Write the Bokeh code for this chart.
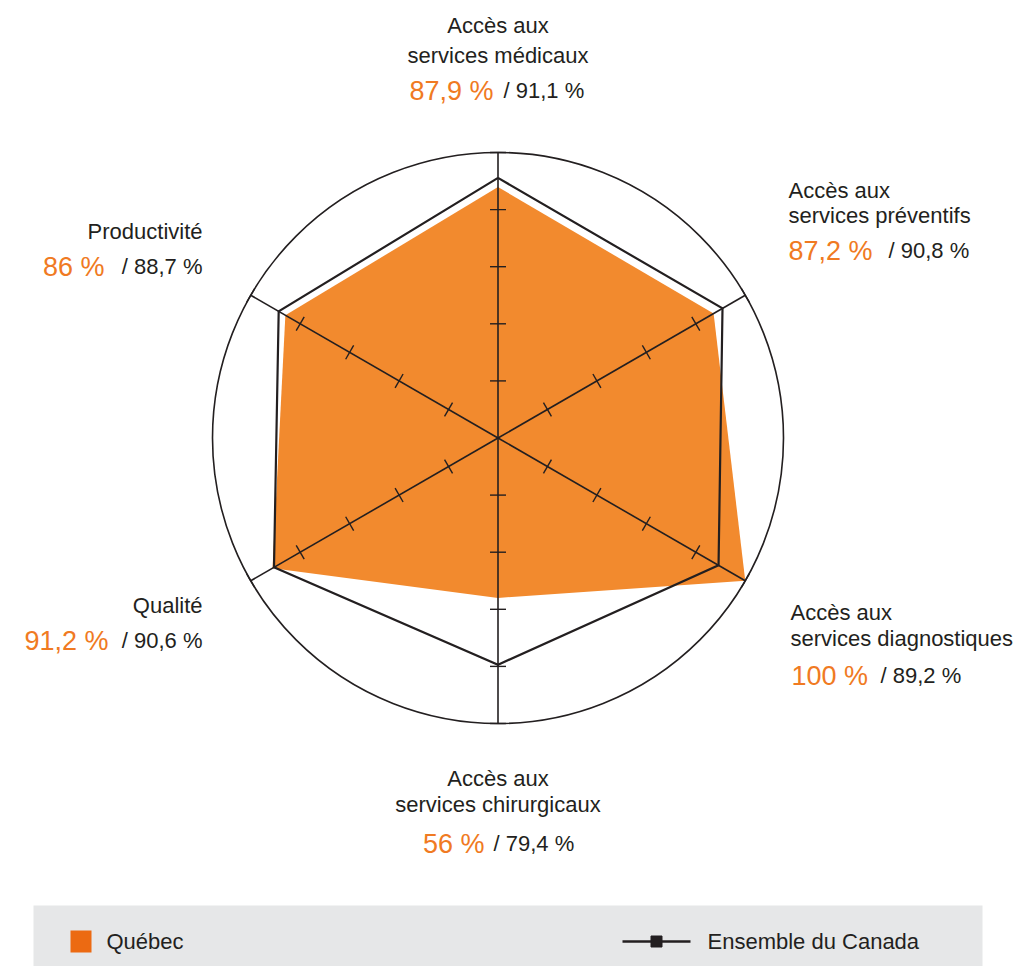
import numpy as np
from bokeh.plotting import figure
from bokeh.models import Range1d
from bokeh.core.properties import value
from bokeh.embed import file_html
from bokeh.resources import INLINE

# ---------------- data ----------------
cat_line1 = ["Accès aux", "Accès aux", "Accès aux", "Accès aux", "", ""]
cat_line2 = ["services médicaux", "services préventifs", "services diagnostiques",
             "services chirurgicaux", "Qualité", "Productivité"]
quebec = [87.9, 87.2, 100.0, 56.0, 91.2, 86.0]
canada = [91.1, 90.8, 89.2, 79.4, 90.6, 88.7]
axis_angles = [90, 30, -30, -90, -150, 150]   # degrees, one per category
ring_ticks = [20, 40, 60, 80, 100]
series_names = ["Québec", "Ensemble du Canada"]

# ---------------- styling / geometry ----------------
ORANGE = "#F28A2E"
ORANGE_TXT = "#F07A22"
ORANGE_LEG = "#EC6A12"
DARK = "#231F20"
FONT = value("Liberation Sans")

W, H = 1028, 966
S = 2.855            # px per percentage unit
CX, CY = 497.5, 437.5  # centre in page pixels
OFF = 0
TY = -8              # text baseline correction


def px(x):
    return (x - CX) / S


def py(y):
    return (CY - y) / S


def ty(y):
    return py(y + TY)


p = figure(width=W, height=H, output_backend="svg", toolbar_location=None,
           x_range=Range1d(px(OFF), px(OFF + W)), y_range=Range1d(py(OFF + H), py(OFF)),
           min_border=0, background_fill_color="white", border_fill_color="white")
p.axis.visible = False
p.grid.visible = False
p.outline_line_color = None

theta = np.radians(axis_angles)
cos_t, sin_t = np.cos(theta), np.sin(theta)

# outer circle (100 %)
p.circle(x=[0], y=[0], radius=100, fill_color=None, line_color=DARK, line_width=1.6)

# Québec area
q = np.array(quebec)
p.patch(list(q * cos_t), list(q * sin_t), fill_color=ORANGE, line_color=None)

# spokes
p.segment(x0=[0] * 6, y0=[0] * 6, x1=list(100 * cos_t), y1=list(100 * sin_t),
          line_color=DARK, line_width=1.6)

# ticks on spokes
h = 2.8
tx0, ty0, tx1, ty1 = [], [], [], []
for c, s in zip(cos_t, sin_t):
    for r in ring_ticks:
        mx, my = r * c, r * s
        tx0.append(mx - h * -s)
        ty0.append(my - h * c)
        tx1.append(mx + h * -s)
        ty1.append(my + h * c)
p.segment(x0=tx0, y0=ty0, x1=tx1, y1=ty1, line_color=DARK, line_width=1.4)

# Canada line
c_arr = np.array(canada)
cx_ = list(c_arr * cos_t) + [c_arr[0] * cos_t[0]]
cy_ = list(c_arr * sin_t) + [c_arr[0] * sin_t[0]]
p.line(cx_, cy_, line_color=DARK, line_width=2.2, line_join="miter")


def fmt(v):
    return f"{v:g}".replace(".", ",") + " %"


# label layout (page px): (line1 y, line2 y, title x, title align, value y, orange x, orange align, black x, black align)
layout = [
    (33, 63, 497.5, "center", 98, 493, "right", 503, "left"),
    (198, 223, 788, "left", 258, 788, "left", 888, "left"),
    (620, 646, 790, "left", 683, 791, "left", 880, "left"),
    (786, 812, 497.5, "center", 851, 484, "right", 493, "left"),
    (None, 613, 202, "right", 648, 108, "right", 202, "right"),
    (None, 239, 202, "right", 274, 104, "right", 202, "right"),
]

for i, (y1, y2, xt, at, yv, xo, ao, xb, ab) in enumerate(layout):
    if cat_line1[i] and y1 is not None:
        p.text(x=[px(xt)], y=[ty(y1)], text=[cat_line1[i]], text_font=FONT,
               text_font_size="22px", text_color=DARK, text_align=at,
               text_baseline="alphabetic")
    p.text(x=[px(xt)], y=[ty(y2)], text=[cat_line2[i]], text_font=FONT,
           text_font_size="22px", text_color=DARK, text_align=at,
           text_baseline="alphabetic")
    p.text(x=[px(xo)], y=[ty(yv)], text=[fmt(quebec[i])], text_font=FONT,
           text_font_size="27px", text_color=ORANGE_TXT, text_align=ao,
           text_baseline="alphabetic")
    p.text(x=[px(xb)], y=[ty(yv)], text=["/ " + fmt(canada[i])], text_font=FONT,
           text_font_size="22px", text_color=DARK, text_align=ab,
           text_baseline="alphabetic")

# legend band
p.quad(left=[px(33)], right=[px(982)], top=[py(905)], bottom=[py(966)],
       fill_color="#E6E7E8", line_color=None)
p.quad(left=[px(70)], right=[px(91)], top=[py(930)], bottom=[py(952)],
       fill_color=ORANGE_LEG, line_color=None)
p.text(x=[px(106)], y=[ty(949)], text=[series_names[0]], text_font=FONT,
       text_font_size="22px", text_color=DARK, text_baseline="alphabetic")
p.line([px(622), px(690)], [py(941), py(941)], line_color=DARK, line_width=2.5)
p.scatter([px(656)], [py(941)], marker="square", size=11, fill_color=DARK, line_color=DARK)
p.text(x=[px(707)], y=[ty(949)], text=[series_names[1]], text_font=FONT,
       text_font_size="22px", text_color=DARK, text_baseline="alphabetic")

open("out.html", "w").write(file_html(p, INLINE))
